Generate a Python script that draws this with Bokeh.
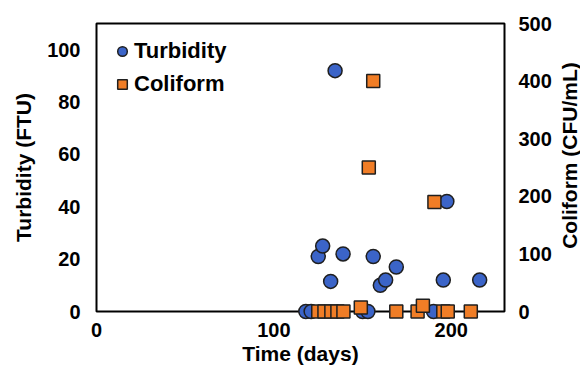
from bokeh.plotting import figure
from bokeh.layouts import row
from bokeh.models import Range1d, LinearAxis, FixedTicker, Legend, LegendItem, Label
from bokeh.embed import file_html
from bokeh.resources import INLINE

# Data
turb_x = [118, 121, 125, 127.5, 132, 134.5, 139, 150, 153, 156, 160, 163, 169, 190, 195.5, 197.5, 216]
turb_y = [0, 0, 21, 25, 11.5, 92, 22, 0, 0, 21, 10, 12, 17, 0, 12, 42, 12]
coli_x = [125, 128.5, 132.4, 135.8, 139.2, 149, 153.5, 156, 169, 181, 184, 190.5, 195.5, 198, 211]
coli_y = [0, 0, 0, 0, 0, 7, 250, 400, 0, 0, 10, 190, 0, 0, 0]
x_ticks = [0, 100, 200]
left_ticks = [0, 20, 40, 60, 80, 100]
right_ticks = [0, 100, 200, 300, 400, 500]

FONT = "Liberation Sans"

p = figure(width=556, height=372, output_backend="svg", toolbar_location=None,
           x_range=Range1d(0, 230), y_range=Range1d(0, 110),
           min_border_left=96, min_border_right=52, min_border_top=23, min_border_bottom=61)
p.extra_y_ranges = {"coli": Range1d(0, 500)}

p.outline_line_color = "black"
p.outline_line_width = 2
p.grid.visible = False
p.background_fill_color = "white"
p.border_fill_color = "white"

def style_axis(ax, ticks, label):
    ax.ticker = FixedTicker(ticks=ticks)
    ax.axis_label = label
    ax.axis_label_text_font = FONT
    ax.axis_label_text_font_style = "bold"
    ax.axis_label_text_font_size = "21px"
    ax.axis_label_text_color = "black"
    ax.major_label_text_font = FONT
    ax.major_label_text_font_style = "bold"
    ax.major_label_text_font_size = "20px"
    ax.major_label_text_color = "black"
    ax.major_tick_line_color = None
    ax.minor_tick_line_color = None
    ax.major_tick_out = 0
    ax.major_tick_in = 0
    ax.minor_tick_out = 0
    ax.minor_tick_in = 0
    ax.axis_line_color = None
    ax.major_label_standoff = 14
    ax.axis_label_standoff = 2

style_axis(p.xaxis[0], x_ticks, "Time (days)")
style_axis(p.yaxis[0], left_ticks, "Turbidity (FTU)")
p.xaxis[0].major_label_standoff = 11
p.xaxis[0].axis_label_standoff = 2
p.yaxis[0].major_label_standoff = 16
p.yaxis[0].axis_label_standoff = 9

rax = LinearAxis(y_range_name="coli")
style_axis(rax, right_ticks, None)
p.add_layout(rax, "right")

r1 = p.scatter(turb_x, turb_y, marker="circle", size=14, fill_color="#3b64c8",
               line_color="#1f1f1f", line_width=1.5, level="overlay")
r2 = p.scatter(coli_x, coli_y, marker="square", size=13, fill_color="#f07d26",
               line_color="#1f1f1f", line_width=1.5, y_range_name="coli", level="overlay")

legend = Legend(items=[LegendItem(label="Turbidity", renderers=[r1]),
                       LegendItem(label="Coliform", renderers=[r2])],
                location="top_left")
legend.margin = 14
legend.padding = 12
legend.glyph_width = 24
legend.glyph_height = 28
legend.label_standoff = 0
legend.spacing = 5
legend.label_text_font = FONT
legend.label_text_font_style = "bold"
legend.label_text_font_size = "22px"
legend.label_text_color = "black"
legend.background_fill_alpha = 0
legend.border_line_color = None
p.add_layout(legend)

# narrow strip holding the right-axis title, reading bottom to top
t = figure(width=24, height=372, output_backend="svg", toolbar_location=None,
           x_range=Range1d(0, 1), y_range=Range1d(0, 1),
           x_axis_type=None, y_axis_type=None,
           min_border_left=0, min_border_right=0, min_border_top=0, min_border_bottom=0)
t.outline_line_color = None
t.grid.visible = False
t.background_fill_color = "white"
t.border_fill_color = "white"
t.add_layout(Label(x=13, y=156, x_units="screen", y_units="screen",
                   text="Coliform (CFU/mL)", angle=90, angle_units="deg",
                   text_align="center", text_baseline="middle",
                   text_font=FONT, text_font_style="bold", text_font_size="21px",
                   text_color="black"))

layout = row(p, t, spacing=0)
open("out.html", "w").write(file_html(layout, INLINE))
